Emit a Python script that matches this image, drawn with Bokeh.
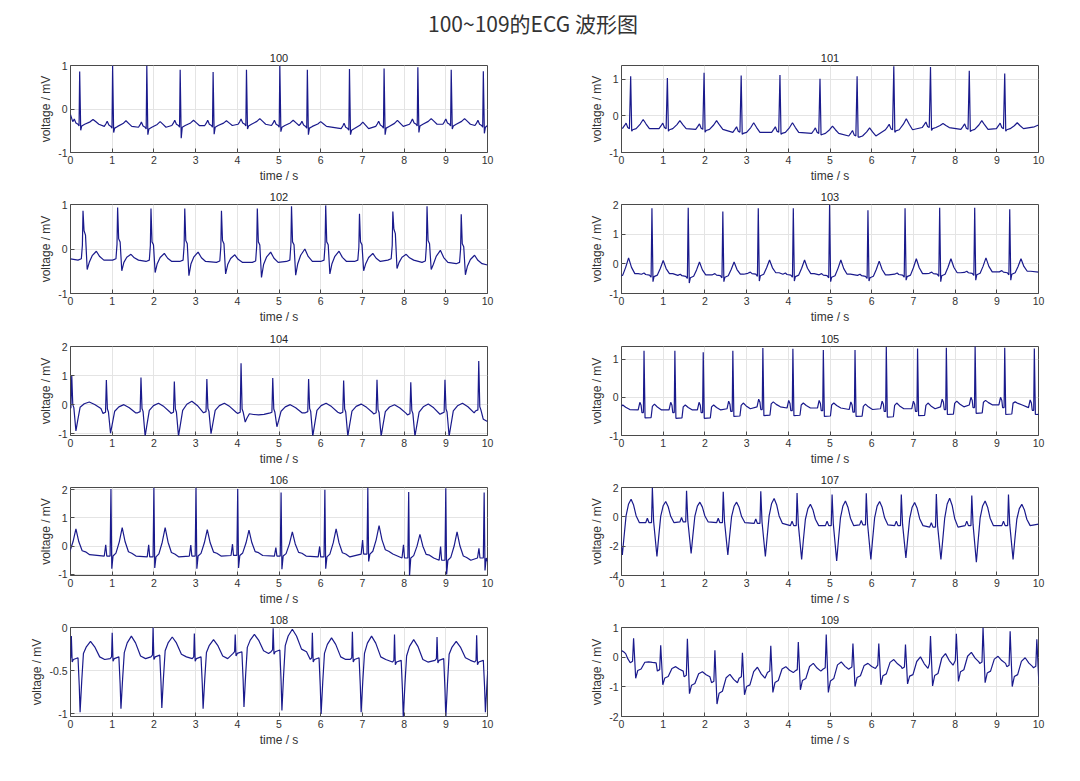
from bokeh.plotting import figure
from bokeh.layouts import column, row
from bokeh.models import Range1d, FixedTicker
from bokeh.embed import file_html
from bokeh.resources import INLINE
from bokeh.core.properties import value

TITLE = "100~109的ECG 波形图"
REC_NAMES = ["100", "101", "102", "103", "104", "105", "106", "107", "108", "109"]
X_TICKS = [0, 1, 2, 3, 4, 5, 6, 7, 8, 9, 10]
X_LABEL = "time / s"
Y_LABEL = "voltage / mV"

# ---- record 100 ----
R100_BEAT = [0.22, 1.01, 1.83, 2.63, 3.42, 4.22, 5.02, 5.68, 6.69, 7.52, 8.33, 9.13, 9.90]
R100_PEAK = [0.86, 1.00, 1.00, 0.90, 0.85, 0.90, 1.00, 0.90, 0.92, 0.93, 0.96, 0.90, 0.87]
R100_TROUGH = [-0.49, -0.54, -0.59, -0.67, -0.58, -0.46, -0.52, -0.59, -0.59, -0.59, -0.54, -0.46, -0.56]
R100_TWAVE = [-0.24, -0.27, -0.29, -0.26, -0.27, -0.22, -0.26, -0.29, -0.30, -0.26, -0.22, -0.22, -0.25]
R100_BASE = [-0.35, -0.40, -0.42, -0.38, -0.38, -0.35, -0.38, -0.40, -0.45, -0.40, -0.35, -0.35, -0.38]
R100_LEAD_T, R100_LEAD_V = [0.0, 0.05], [-0.13, -0.28]
R100_TAIL_T, R100_TAIL_V = [10.0], [-0.38]
R100_YLIM, R100_YTICKS, R100_YLABELS = (-1, 1), [-1, 0, 1], ["-1", "0", "1"]

# ---- record 101 ----
R101_BEAT = [0.22, 1.10, 1.98, 2.87, 3.80, 4.76, 5.65, 6.53, 7.41, 8.34, 9.19]
R101_PEAK = [1.08, 1.03, 1.17, 1.10, 1.11, 1.01, 1.08, 1.35, 1.33, 1.23, 1.15]
R101_TROUGH = [-0.42, -0.42, -0.45, -0.50, -0.50, -0.52, -0.58, -0.45, -0.40, -0.43, -0.42]
R101_TWAVE = [-0.10, -0.13, -0.13, -0.19, -0.19, -0.28, -0.33, -0.08, -0.21, -0.13, -0.19]
R101_BASE = [-0.35, -0.35, -0.37, -0.45, -0.45, -0.48, -0.55, -0.38, -0.32, -0.37, -0.35]
R101_LEAD_T, R101_LEAD_V = [], []
R101_TAIL_T, R101_TAIL_V = [9.9, 10.0], [-0.3, -0.25]
R101_YLIM, R101_YTICKS, R101_YLABELS = (-1, 1.37), [-1, 0, 1], ["-1", "0", "1"]

# ---- record 102 ----
R102_BEAT = [0.30, 1.13, 1.93, 2.74, 3.62, 4.48, 5.30, 6.12, 6.93, 7.73, 8.55, 9.37]
R102_PEAK = [0.86, 0.93, 0.91, 0.91, 0.86, 0.91, 0.96, 0.98, 0.79, 0.84, 0.96, 0.78]
R102_NOTCH = [0.41, 0.23, 0.16, 0.19, 0.19, 0.16, 0.16, 0.16, 0.16, 0.45, 0.19, 0.12]
R102_TROUGH = [-0.46, -0.49, -0.53, -0.60, -0.56, -0.64, -0.59, -0.56, -0.49, -0.44, -0.46, -0.58]
R102_TWAVE = [-0.05, -0.12, -0.10, -0.07, -0.13, -0.07, 0.00, -0.05, -0.10, -0.12, -0.03, -0.14]
R102_BASE = [-0.25, -0.25, -0.28, -0.28, -0.30, -0.30, -0.28, -0.28, -0.28, -0.25, -0.30, -0.33]
R102_LEAD_T, R102_LEAD_V = [0.0], [-0.22]
R102_TAIL_T, R102_TAIL_V = [10.0], [-0.36]
R102_YLIM, R102_YTICKS, R102_YLABELS = (-1, 1), [-1, 0, 1], ["-1", "0", "1"]

# ---- record 103 ----
R103_BEAT = [-0.10, 0.73, 1.60, 2.43, 3.28, 4.12, 4.99, 5.91, 6.80, 7.63, 8.47, 9.31]
R103_PEAK = [1.80, 1.87, 1.89, 1.76, 1.87, 1.87, 1.98, 1.81, 1.87, 1.89, 1.89, 1.84]
R103_TROUGH = [-0.60, -0.60, -0.65, -0.60, -0.58, -0.58, -0.60, -0.58, -0.55, -0.60, -0.55, -0.55]
R103_TWAVE = [0.20, 0.11, 0.06, 0.06, 0.13, 0.13, 0.13, 0.09, 0.17, 0.17, 0.20, 0.17]
R103_BASE = [-0.38, -0.38, -0.42, -0.40, -0.35, -0.38, -0.40, -0.42, -0.38, -0.35, -0.32, -0.30]
R103_LEAD_T, R103_LEAD_V = [], []
R103_TAIL_T, R103_TAIL_V = [10.0], [-0.28]
R103_YLIM, R103_YTICKS, R103_YLABELS = (-1, 2), [-1, 0, 1, 2], ["-1", "0", "1", "2"]

# ---- record 104 ----
R104_BEAT = [0.03, 0.86, 1.69, 2.49, 3.27, 4.09, 4.85, 5.71, 6.55, 7.35, 8.16, 8.98, 9.79]
R104_PEAK = [1.00, 0.85, 0.93, 0.80, 0.88, 1.42, 0.92, 0.88, 0.83, 0.86, 0.77, 0.86, 1.50]
R104_TROUGH = [-0.90, -0.98, -1.08, -1.08, -1.00, -0.60, -0.76, -1.08, -1.08, -1.08, -1.08, -1.08, -0.45]
R104_TWAVE = [0.09, 0.00, 0.05, 0.12, 0.05, -0.35, 0.00, 0.05, 0.02, 0.00, 0.02, 0.05, -0.50]
R104_BASE = [-0.15, -0.30, -0.28, -0.30, -0.28, -0.30, -0.30, -0.28, -0.30, -0.32, -0.35, -0.30, -0.22]
R104_LEAD_T, R104_LEAD_V = [0.0], [-0.12]
R104_TAIL_T, R104_TAIL_V = [9.9, 10.0], [-0.5, -0.58]
R104_YLIM, R104_YTICKS, R104_YLABELS = (-1.06, 2), [-1, 0, 1, 2], ["-1", "0", "1", "2"]

# ---- record 105 ----
R105_BEAT = [-0.22, 0.54, 1.28, 1.96, 2.67, 3.39, 4.11, 4.84, 5.60, 6.35, 7.10, 7.79, 8.48, 9.19, 9.90]
R105_PEAK = [1.20, 1.22, 1.22, 1.18, 1.22, 1.29, 1.27, 1.24, 1.24, 1.32, 1.28, 1.30, 1.34, 1.30, 1.28]
R105_TROUGH = [-0.48, -0.54, -0.55, -0.55, -0.50, -0.48, -0.48, -0.50, -0.50, -0.52, -0.48, -0.45, -0.42, -0.45, -0.45]
R105_TWAVE = [-0.20, -0.18, -0.20, -0.20, -0.15, -0.12, -0.15, -0.15, -0.18, -0.15, -0.15, -0.10, -0.08, -0.12, -0.15]
R105_BASE = [-0.32, -0.33, -0.33, -0.33, -0.30, -0.25, -0.28, -0.28, -0.32, -0.30, -0.30, -0.25, -0.20, -0.20, -0.27]
R105_LEAD_T, R105_LEAD_V = [], []
R105_TAIL_T, R105_TAIL_V = [], []
R105_YLIM, R105_YTICKS, R105_YLABELS = (-1, 1.33), [-1, 0, 1], ["-1", "0", "1"]

# ---- record 106 ----
R106_BEAT = [-0.14, 0.97, 2.00, 3.01, 4.01, 5.05, 6.10, 7.13, 8.11, 9.00, 9.92]
R106_PEAK = [2.00, 2.03, 2.07, 2.07, 2.03, 1.90, 2.00, 2.07, 1.92, 2.05, 1.90]
R106_PWAVE = [0.00, 0.05, 0.05, 0.04, 0.07, -0.05, -0.01, 0.22, 0.05, -0.01, -0.08]
R106_TROUGH = [-0.80, -0.80, -0.77, -0.80, -0.77, -0.82, -0.80, -0.54, -1.05, -1.00, -0.86]
R106_TWAVE = [0.61, 0.66, 0.66, 0.59, 0.57, 0.51, 0.61, 0.73, 0.42, 0.51, 0.50]
R106_BASE = [-0.30, -0.35, -0.38, -0.35, -0.33, -0.35, -0.38, -0.28, -0.42, -0.50, -0.42]
R106_LEAD_T, R106_LEAD_V = [], []
R106_TAIL_T, R106_TAIL_V = [10.0], [-0.55]
R106_YLIM, R106_YTICKS, R106_YLABELS = (-1.04, 2.08), [-1, 0, 1, 2], ["-1", "0", "1", "2"]

# ---- record 107 ----
R107_BEAT = [-0.09, 0.74, 1.56, 2.44, 3.34, 4.21, 5.05, 5.87, 6.71, 7.55, 8.40, 9.28]
R107_PEAK = [1.50, 2.00, 1.78, 1.71, 1.74, 1.63, 1.52, 1.60, 1.52, 1.56, 1.45, 1.52]
R107_TROUGH = [-2.60, -2.70, -2.50, -2.60, -2.70, -2.90, -3.00, -2.90, -2.80, -2.90, -3.10, -2.90]
R107_TWAVE = [1.20, 1.05, 1.00, 1.00, 1.25, 0.85, 1.08, 1.05, 0.97, 1.27, 1.08, 0.85]
R107_BASE = [-0.40, -0.40, -0.35, -0.40, -0.45, -0.60, -0.60, -0.55, -0.60, -0.70, -0.60, -0.60]
R107_LEAD_T, R107_LEAD_V = [], []
R107_TAIL_T, R107_TAIL_V = [10.0], [-0.50]
R107_YLIM, R107_YTICKS, R107_YLABELS = (-4, 2), [-4, -2, 0, 2], ["-4", "-2", "0", "2"]

# ---- record 108 ----
R108_BEAT = [0.02, 1.00, 1.98, 2.97, 3.95, 4.86, 5.80, 6.76, 7.77, 8.79, 9.74]
R108_PEAK = [-0.10, -0.06, 0.00, -0.07, -0.08, -0.01, -0.06, -0.05, -0.08, -0.11, -0.09]
R108_TROUGH = [-0.98, -0.94, -0.93, -0.94, -0.92, -0.96, -1.00, -0.98, -1.04, -1.05, -0.98]
R108_TWAVE = [-0.16, -0.10, -0.11, -0.14, -0.08, -0.02, -0.12, -0.10, -0.14, -0.16, -0.20]
R108_BASE = [-0.37, -0.36, -0.34, -0.36, -0.30, -0.28, -0.37, -0.37, -0.40, -0.38, -0.40]
R108_LEAD_T, R108_LEAD_V = [], []
R108_TAIL_T, R108_TAIL_V = [], []
R108_YLIM, R108_YTICKS, R108_YLABELS = (-1.03, 0.0), [-1, -0.5, 0], ["-1", "-0.5", "0"]

# ---- record 109 ----
R109_BEAT = [0.29, 0.94, 1.58, 2.24, 2.90, 3.58, 4.24, 4.91, 5.55, 6.17, 6.81, 7.41, 8.03, 8.67, 9.32, 9.96]
R109_PEAK = [0.64, 0.40, 0.62, 0.23, 0.15, 0.38, 0.51, 0.76, 0.46, 0.46, 0.43, 0.71, 0.79, 1.00, 0.87, 0.60]
R109_TROUGH = [-0.71, -0.93, -1.23, -1.58, -1.27, -1.19, -1.10, -1.19, -0.99, -0.93, -0.90, -0.97, -0.82, -0.86, -0.99, -0.90]
R109_TWAVE = [-0.16, -0.32, -0.49, -0.58, -0.34, -0.32, -0.21, -0.16, -0.21, -0.08, 0.01, 0.12, 0.16, 0.03, -0.02, 0.00]
R109_BASE = [-0.19, -0.47, -0.66, -0.86, -0.71, -0.52, -0.47, -0.41, -0.38, -0.32, -0.38, -0.27, -0.16, -0.21, -0.32, -0.36]
R109_LEAD_T, R109_LEAD_V = [0.0, 0.05, 0.10, 0.15], [0.22, 0.18, 0.12, -0.05]
R109_TAIL_T, R109_TAIL_V = [], []
R109_YLIM, R109_YTICKS, R109_YLABELS = (-2, 1), [-2, -1, 0, 1], ["-2", "-1", "0", "1"]

# beat shape templates: (offset from R peak in s, reference, weight)
# 'b': baseline + weight ; other refs: baseline + weight * (ref - baseline)
TPL_100 = [(-0.20, "b", 0.0), (-0.16, "b", 0.06), (-0.13, "b", 0.12), (-0.09, "b", 0.03), (-0.04, "b", 0.0),
           (-0.015, "b", -0.04), (0.0, "r", 1), (0.025, "s", 1), (0.05, "b", -0.04), (0.12, "b", 0.0),
           (0.25, "t", 0.5), (0.32, "t", 1), (0.39, "t", 0.5), (0.46, "b", 0.0)]
TPL_101 = [(-0.20, "b", 0.0), (-0.15, "b", 0.08), (-0.11, "b", 0.15), (-0.07, "b", 0.03), (-0.03, "b", 0.0),
           (0.0, "r", 1), (0.025, "s", 1), (0.05, "b", -0.03), (0.13, "b", 0.0), (0.23, "t", 0.5),
           (0.30, "t", 1), (0.37, "t", 0.5), (0.45, "b", 0.0)]
TPL_102 = [(-0.12, "b", 0.0), (-0.04, "b", 0.03), (-0.015, "r", 0.3), (0.0, "r", 1), (0.025, "n", 1),
           (0.06, "n", 0.85), (0.10, "s", 1), (0.15, "b", -0.05), (0.22, "t", 0.5), (0.32, "t", 1),
           (0.40, "t", 0.4), (0.50, "b", 0.0)]
TPL_103 = [(-0.25, "b", 0.03), (-0.19, "b", 0.07), (-0.15, "b", 0.02), (-0.06, "b", 0.0), (-0.02, "b", -0.07),
           (0.0, "r", 1), (0.025, "s", 1), (0.05, "b", -0.05), (0.13, "b", 0.0), (0.20, "t", 0.45),
           (0.27, "t", 1), (0.34, "t", 0.45), (0.42, "b", 0.05), (0.50, "b", 0.05)]
TPL_104 = [(-0.08, "b", 0.0), (-0.02, "b", 0.04), (0.0, "r", 1), (0.025, "b", 0.15), (0.05, "b", 0.05),
           (0.10, "s", 1), (0.14, "s", 0.55), (0.20, "t", 0.25), (0.30, "t", 0.75), (0.42, "t", 1),
           (0.55, "t", 0.65), (0.70, "b", 0.02)]
TPL_105 = [(-0.14, "b", 0.0), (-0.10, "b", 0.2), (-0.07, "b", 0.12), (-0.05, "b", -0.07), (-0.015, "b", -0.07),
           (0.0, "r", 1), (0.025, "s", 1), (0.17, "s", 0.95), (0.20, "t", 0.6), (0.25, "t", 1),
           (0.32, "t", 0.5), (0.42, "b", 0.0)]
TPL_106 = [(-0.16, "b", 0.0), (-0.125, "p", 1), (-0.10, "b", 0.0), (-0.02, "b", 0.0), (0.0, "r", 1),
           (0.02, "s", 1), (0.05, "b", 0.0), (0.12, "t", 0.1), (0.20, "t", 0.5), (0.27, "t", 1),
           (0.34, "t", 0.5), (0.42, "t", 0.15), (0.50, "b", 0.1), (0.60, "b", 0.0)]
TPL_107 = [(-0.16, "b", 0.0), (-0.12, "b", 0.3), (-0.08, "b", 0.0), (-0.02, "b", 0.0), (0.0, "r", 1),
           (0.03, "b", 0.1), (0.11, "s", 1), (0.15, "s", 0.45), (0.20, "t", 0.3), (0.26, "t", 0.8),
           (0.32, "t", 1), (0.38, "t", 0.75), (0.44, "t", 0.3), (0.52, "b", 0.0)]
TPL_108 = [(-0.05, "b", 0.0), (-0.015, "b", 0.02), (0.0, "r", 1), (0.02, "b", -0.03), (0.05, "b", 0.0),
           (0.16, "b", 0.02), (0.19, "s", 0.5), (0.21, "s", 1), (0.25, "s", 0.4), (0.29, "b", 0.07),
           (0.36, "t", 0.7), (0.46, "t", 1), (0.56, "t", 0.7), (0.68, "b", 0.03), (0.80, "b", 0.0)]
TPL_109 = [(-0.08, "b", 0.0), (-0.025, "b", 0.05), (0.0, "r", 1), (0.05, "s", 1), (0.10, "s", 0.5),
           (0.18, "s", 0.4), (0.27, "t", 0.6), (0.36, "t", 1), (0.45, "t", 0.4), (0.54, "b", 0.0)]

G = globals()
RECORDS = {}
for name in REC_NAMES:
    RECORDS[name] = dict(
        beat=G["R%s_BEAT" % name], peak=G["R%s_PEAK" % name], trough=G["R%s_TROUGH" % name],
        twave=G["R%s_TWAVE" % name], base=G["R%s_BASE" % name],
        lead_t=G["R%s_LEAD_T" % name], lead_v=G["R%s_LEAD_V" % name],
        tail_t=G["R%s_TAIL_T" % name], tail_v=G["R%s_TAIL_V" % name],
        ylim=G["R%s_YLIM" % name], yticks=G["R%s_YTICKS" % name], ylabels=G["R%s_YLABELS" % name],
        tpl=G["TPL_%s" % name], extra={},
    )
RECORDS["102"]["extra"]["n"] = R102_NOTCH
RECORDS["106"]["extra"]["p"] = R106_PWAVE


def build(rec):
    xs, ys = list(rec["lead_t"]), list(rec["lead_v"])
    lo = xs[-1] if xs else -1e9
    hi = rec["tail_t"][0] if rec["tail_t"] else 1e9
    for i, rt in enumerate(rec["beat"]):
        b = rec["base"][i]
        refs = {"r": rec["peak"][i], "s": rec["trough"][i], "t": rec["twave"][i]}
        for k, arr in rec["extra"].items():
            refs[k] = arr[i]
        for dt, ref, w in rec["tpl"]:
            x = rt + dt
            y = b + w if ref == "b" else b + w * (refs[ref] - b)
            if lo < x < hi and (not xs or x > xs[-1]):
                xs.append(x)
                ys.append(y)
    xs += list(rec["tail_t"])
    ys += list(rec["tail_v"])
    return xs, ys


FONT = "Liberation Sans"
LINE_COLOR = "#1a1a8c"
ROW_HEIGHTS = [139, 142, 141, 140, 141]
TOP = 19


def make_fig(name, col, rowi):
    rec = RECORDS[name]
    h = ROW_HEIGHTS[rowi]
    p = figure(width=540 if col == 0 else 532, height=h,
               x_range=Range1d(0, 10), y_range=Range1d(*rec["ylim"]),
               output_backend="svg", toolbar_location=None,
               min_border_left=70 if col == 0 else 81,
               min_border_right=53 if col == 0 else 34,
               min_border_top=TOP, min_border_bottom=h - TOP - 89,
               background_fill_color="white", border_fill_color="white")
    xs, ys = build(rec)
    p.line(xs, ys, line_color=LINE_COLOR, line_width=1.2)
    p.title.text = name
    p.title.align = "center"
    p.title.vertical_align = "top"
    p.title.text_font = FONT
    p.title.text_font_size = "11px"
    p.title.text_font_style = "normal"
    p.title.text_color = "#262626"
    p.title.standoff = 3
    p.outline_line_color = "#4a4a4a"
    p.outline_line_width = 1
    for ax in (p.xaxis[0], p.yaxis[0]):
        ax.axis_line_color = None
        ax.major_tick_in = 4
        ax.major_tick_out = 0
        ax.minor_tick_line_color = None
        ax.major_tick_line_color = "#4a4a4a"
        ax.major_label_text_font = FONT
        ax.major_label_text_font_size = "10.5px"
        ax.major_label_text_color = "#333333"
        ax.major_label_standoff = 3
        ax.axis_label_text_font = FONT
        ax.axis_label_text_font_size = "12px"
        ax.axis_label_text_font_style = "normal"
        ax.axis_label_text_color = "#333333"
        ax.axis_label_standoff = 2
    p.xaxis.ticker = FixedTicker(ticks=X_TICKS)
    p.xaxis.major_label_overrides = {t: str(t) for t in X_TICKS}
    p.yaxis.ticker = FixedTicker(ticks=rec["yticks"])
    p.yaxis.major_label_overrides = dict(zip(rec["yticks"], rec["ylabels"]))
    p.xaxis.axis_label = X_LABEL
    p.yaxis.axis_label = Y_LABEL
    p.xgrid.grid_line_color = "#e4e4e4"
    p.ygrid.grid_line_color = "#e4e4e4"
    return p


head = figure(width=1072, height=46, x_range=Range1d(0, 1), y_range=Range1d(0, 1),
              output_backend="svg", toolbar_location=None, min_border=0,
              outline_line_color=None)
head.axis.visible = False
head.grid.visible = False
head.text(x=[0.4967], y=[0.52], text=[TITLE], text_align="center", text_baseline="middle",
          text_font=value("Noto Sans CJK SC"), text_font_size="21px", text_color="#333333")

rows = []
for ri in range(5):
    left = make_fig(REC_NAMES[2 * ri], 0, ri)
    right = make_fig(REC_NAMES[2 * ri + 1], 1, ri)
    rows.append(row(left, right))

layout = column(head, *rows)
open("out.html", "w").write(file_html(layout, INLINE, title="ECG"))
